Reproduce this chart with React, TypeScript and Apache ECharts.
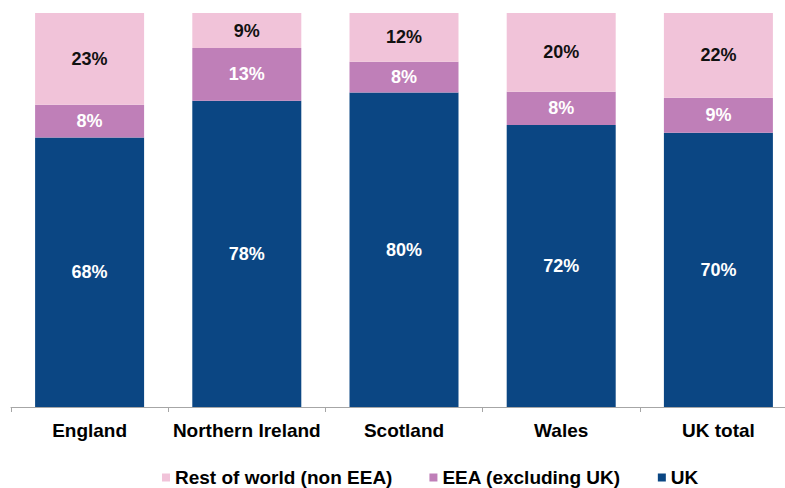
import React, { useEffect, useRef } from "react";
import * as echarts from "echarts";

const categories = ["England", "Northern Ireland", "Scotland", "Wales", "UK total"];
const ukValues = [68.4, 77.7, 79.8, 71.6, 69.6];
const eeaValues = [8.3, 13.4, 7.8, 8.4, 8.9];
const restValues = [23.3, 8.9, 12.4, 20.0, 21.5];

const FONT = '"Liberation Sans", Arial, sans-serif';

export default function App() {
  const ref = useRef<HTMLDivElement>(null);
  useEffect(() => {
    if (!ref.current) return;
    const chart = echarts.init(ref.current, undefined, { renderer: "svg" });
    const label = (color: string) => ({
      show: true,
      position: "inside",
      color,
      fontFamily: FONT,
      fontWeight: "bold",
      fontSize: 18,
      formatter: (p: any) => Math.round(p.value) + "%",
    });
    chart.setOption({
      animation: false,
      textStyle: { fontFamily: FONT },
      grid: { left: 11, top: 13, width: 786, height: 394, containLabel: false },
      legend: {
        data: ["Rest of world (non EEA)", "EEA (excluding UK)", "UK"],
        left: 157,
        top: 463,
        itemGap: 37,
        itemWidth: 8,
        itemHeight: 8,
        icon: "rect",
        textStyle: { fontFamily: FONT, fontWeight: "bold", fontSize: 19, color: "#000" },
      },
      xAxis: {
        type: "category",
        data: categories,
        axisLine: { lineStyle: { color: "#a6a6a6", width: 1 } },
        axisTick: { show: true, length: 5, lineStyle: { color: "#a6a6a6" } },
        axisLabel: {
          interval: 0,
          color: "#000",
          fontFamily: FONT,
          fontWeight: "bold",
          fontSize: 19,
          margin: 14,
        },
      },
      yAxis: { type: "value", min: 0, max: 100, show: false },
      series: [
        {
          name: "UK",
          type: "bar",
          stack: "total",
          barWidth: 109,
          data: ukValues,
          itemStyle: { color: "#0b4683" },
          label: label("#ffffff"),
        },
        {
          name: "EEA (excluding UK)",
          type: "bar",
          stack: "total",
          barWidth: 109,
          data: eeaValues,
          itemStyle: { color: "#bf7fb8" },
          label: label("#ffffff"),
        },
        {
          name: "Rest of world (non EEA)",
          type: "bar",
          stack: "total",
          barWidth: 109,
          data: restValues,
          itemStyle: { color: "#f1c3d9" },
          label: label("#111111"),
        },
      ],
    });
    return () => chart.dispose();
  }, []);
  return (
    <div
      ref={ref}
      style={{ position: "fixed", left: 0, top: 0, width: 800, height: 488, background: "#fff" }}
    />
  );
}
